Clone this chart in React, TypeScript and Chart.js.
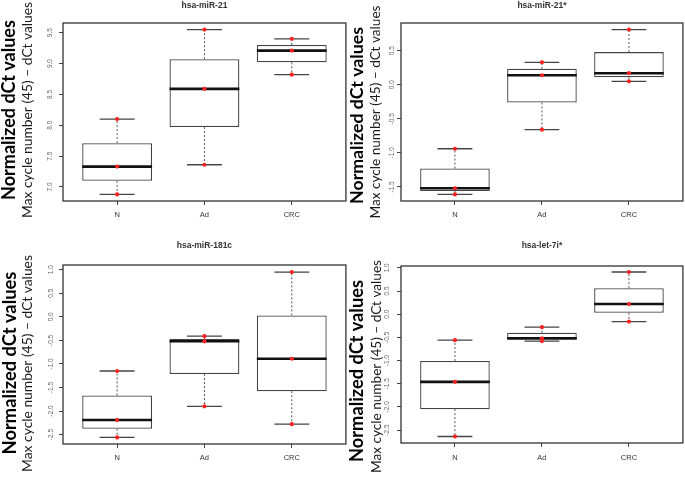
import React, { useEffect, useRef } from 'react';
import { Chart, registerables } from 'chart.js';

Chart.register(...registerables);

// ---------- data ----------
const CATEGORIES = ['N', 'Ad', 'CRC'];
const CATEGORY_POS = [1, 2, 3];
const Y_TITLE_BOLD = 'Normalized dCt values';
const Y_TITLE = 'Max cycle number (45) – dCt values';

// hsa-miR-21
const MIR21_MIN = [6.88, 7.36, 8.82];
const MIR21_Q1 = [7.1, 7.97, 9.02];
const MIR21_MED = [7.33, 8.59, 9.21];
const MIR21_Q3 = [7.71, 9.07, 9.3];
const MIR21_MAX = [8.1, 9.55, 9.4];
const MIR21_POINTS = [[8.1, 7.33, 6.88], [9.55, 8.59, 7.36], [9.4, 9.21, 8.82]];
const MIR21_TICKS = [7.0, 7.5, 8.0, 8.5, 9.0, 9.5];
const MIR21_RANGE = [6.773, 9.657];

// hsa-miR-21*
const MIR21S_MIN = [-1.61, -0.66, 0.05];
const MIR21S_Q1 = [-1.56, -0.26, 0.11];
const MIR21S_MED = [-1.52, 0.14, 0.17];
const MIR21S_Q3 = [-1.23, 0.235, 0.48];
const MIR21S_MAX = [-0.94, 0.33, 0.81];
const MIR21S_POINTS = [[-0.94, -1.52, -1.61], [0.33, 0.14, -0.66], [0.81, 0.17, 0.05]];
const MIR21S_TICKS = [-1.5, -1.0, -0.5, 0.0, 0.5];
const MIR21S_RANGE = [-1.707, 0.907];

// hsa-miR-181c
const MIR181C_MIN = [-2.56, -1.9, -2.28];
const MIR181C_Q1 = [-2.375, -1.215, -1.58];
const MIR181C_MED = [-2.19, -0.52, -0.89];
const MIR181C_Q3 = [-1.67, -0.47, 0.03];
const MIR181C_MAX = [-1.15, -0.41, 0.95];
const MIR181C_POINTS = [[-1.15, -2.19, -2.56], [-0.41, -0.52, -1.9], [0.95, -0.89, -2.28]];
const MIR181C_TICKS = [-2.5, -2.0, -1.5, -1.0, -0.5, 0.0, 0.5, 1.0];
const MIR181C_RANGE = [-2.7, 1.1];

// hsa-let-7i*
const LET7I_MIN = [-2.64, -0.58, -0.16];
const LET7I_Q1 = [-2.05, -0.55, 0.03];
const LET7I_MED = [-1.46, -0.52, 0.22];
const LET7I_Q3 = [-1.01, -0.4, 0.56];
const LET7I_MAX = [-0.56, -0.28, 0.91];
const LET7I_POINTS = [[-0.56, -1.46, -2.64], [-0.28, -0.52, -0.58], [0.91, 0.22, -0.16]];
const LET7I_TICKS = [-2.5, -2.0, -1.5, -1.0, -0.5, 0.0, 0.5, 1.0];
const LET7I_RANGE = [-2.78, 1.04];

// ---------- layout / style ----------
type Layout = {
  left: number; top: number; width: number; height: number;
  padTop: number; padRight: number; yWidth: number; xHeight: number; xPad: number;
  tickGap: number;
  bold: { x: number; y: number; len: number };
  normal: { x: number; y: number; len: number };
};

type Panel = {
  title: string;
  min: number[]; q1: number[]; med: number[]; q3: number[]; max: number[];
  points: number[][]; ticks: number[]; range: number[];
  layout: Layout;
};

const PANELS: Panel[] = [
  {
    title: 'hsa-miR-21', min: MIR21_MIN, q1: MIR21_Q1, med: MIR21_MED, q3: MIR21_Q3, max: MIR21_MAX,
    points: MIR21_POINTS, ticks: MIR21_TICKS, range: MIR21_RANGE,
    layout: { left: 0, top: 0, width: 348, height: 240, padTop: 23, padRight: 2, yWidth: 63, xHeight: 39, xPad: 5, tickGap: 13,
      bold: { x: 9, y: 110, len: 180 }, normal: { x: 28, y: 110, len: 216 } },
  },
  {
    title: 'hsa-miR-21*', min: MIR21S_MIN, q1: MIR21S_Q1, med: MIR21S_MED, q3: MIR21S_Q3, max: MIR21S_MAX,
    points: MIR21S_POINTS, ticks: MIR21S_TICKS, range: MIR21S_RANGE,
    layout: { left: 347, top: 0, width: 338, height: 240, padTop: 23, padRight: 2, yWidth: 54, xHeight: 39, xPad: 5, tickGap: 9,
      bold: { x: 10, y: 115.5, len: 177 }, normal: { x: 29, y: 112, len: 213 } },
  },
  {
    title: 'hsa-miR-181c', min: MIR181C_MIN, q1: MIR181C_Q1, med: MIR181C_MED, q3: MIR181C_Q3, max: MIR181C_MAX,
    points: MIR181C_POINTS, ticks: MIR181C_TICKS, range: MIR181C_RANGE,
    layout: { left: 0, top: 240, width: 348, height: 241, padTop: 25, padRight: 2, yWidth: 63, xHeight: 37, xPad: 5, tickGap: 11.5,
      bold: { x: 10, y: 123, len: 183 }, normal: { x: 28, y: 123.5, len: 217 } },
  },
  {
    title: 'hsa-let-7i*', min: LET7I_MIN, q1: LET7I_Q1, med: LET7I_MED, q3: LET7I_Q3, max: LET7I_MAX,
    points: LET7I_POINTS, ticks: LET7I_TICKS, range: LET7I_RANGE,
    layout: { left: 347, top: 240, width: 338, height: 241, padTop: 26, padRight: 2, yWidth: 54, xHeight: 38, xPad: 6, tickGap: 14,
      bold: { x: 10, y: 131, len: 182 }, normal: { x: 30, y: 126.5, len: 213 } },
  },
];

const FONT = '"Liberation Sans", Arial, sans-serif';
const TITLE_FONT = 'Lato, "Liberation Sans", sans-serif';

function fitSize(ctx: CanvasRenderingContext2D, text: string, weight: string, family: string, target: number) {
  ctx.font = `${weight} 20px ${family}`;
  const w = ctx.measureText(text).width;
  return (20 * target) / w;
}

function drawRotated(ctx: CanvasRenderingContext2D, text: string, x: number, y: number, font: string, color: string) {
  ctx.save();
  ctx.translate(x, y);
  ctx.rotate(-Math.PI / 2);
  ctx.font = font;
  ctx.fillStyle = color;
  ctx.textAlign = 'center';
  ctx.textBaseline = 'middle';
  ctx.fillText(text, 0, 0);
  ctx.restore();
}

function makePlugin(panel: Panel) {
  return {
    id: 'boxExtras',
    afterDatasetDraw(chart: any, args: any) {
      if (args.index !== 0) return;
      const ctx: CanvasRenderingContext2D = chart.ctx;
      const xs = chart.scales.x;
      const ys = chart.scales.y;
      const meta = chart.getDatasetMeta(0);
      ctx.save();
      CATEGORY_POS.forEach((pos, i) => {
        const cx = xs.getPixelForValue(pos);
        const w = meta.data[i].width;
        const capHalf = w / 4;
        const yMin = ys.getPixelForValue(panel.min[i]);
        const yQ1 = ys.getPixelForValue(panel.q1[i]);
        const yMed = ys.getPixelForValue(panel.med[i]);
        const yQ3 = ys.getPixelForValue(panel.q3[i]);
        const yMax = ys.getPixelForValue(panel.max[i]);
        // whiskers (dashed)
        ctx.strokeStyle = '#555';
        ctx.lineWidth = 1;
        ctx.setLineDash([2, 2]);
        ctx.beginPath();
        ctx.moveTo(cx, yQ3);
        ctx.lineTo(cx, yMax);
        ctx.moveTo(cx, yQ1);
        ctx.lineTo(cx, yMin);
        ctx.stroke();
        // caps
        ctx.setLineDash([]);
        ctx.lineWidth = 1.3;
        ctx.strokeStyle = '#444';
        ctx.beginPath();
        ctx.moveTo(cx - capHalf, yMax);
        ctx.lineTo(cx + capHalf, yMax);
        ctx.moveTo(cx - capHalf, yMin);
        ctx.lineTo(cx + capHalf, yMin);
        ctx.stroke();
        // median
        ctx.lineWidth = 2.6;
        ctx.strokeStyle = '#111';
        ctx.beginPath();
        ctx.moveTo(cx - w / 2, yMed);
        ctx.lineTo(cx + w / 2, yMed);
        ctx.stroke();
      });
      ctx.restore();
    },
    afterDraw(chart: any) {
      const ctx: CanvasRenderingContext2D = chart.ctx;
      const a = chart.chartArea;
      const L = panel.layout;
      ctx.save();
      // frame
      ctx.strokeStyle = '#333';
      ctx.lineWidth = 1.3;
      ctx.strokeRect(a.left, a.top, a.right - a.left, a.bottom - a.top);
      // panel title
      ctx.font = `bold 8.5px ${FONT}`;
      ctx.fillStyle = '#333';
      ctx.textAlign = 'center';
      ctx.textBaseline = 'middle';
      ctx.fillText(panel.title, (a.left + a.right) / 2, 6);
      // y tick labels (rotated, as in R)
      const ys = chart.scales.y;
      panel.ticks.forEach((v) => {
        drawRotated(ctx, v.toFixed(1), a.left - L.tickGap, ys.getPixelForValue(v), `6.5px ${FONT}`, '#666');
      });
      // axis titles
      const bSize = fitSize(ctx, Y_TITLE_BOLD, 'bold', TITLE_FONT, L.bold.len);
      drawRotated(ctx, Y_TITLE_BOLD, L.bold.x, L.bold.y, `bold ${bSize}px ${TITLE_FONT}`, '#000');
      const nSize = fitSize(ctx, Y_TITLE, 'normal', TITLE_FONT, L.normal.len);
      drawRotated(ctx, Y_TITLE, L.normal.x, L.normal.y, `normal ${nSize}px ${TITLE_FONT}`, '#1a1a1a');
      ctx.restore();
    },
  };
}

function BoxPanel({ panel }: { panel: Panel }) {
  const ref = useRef<HTMLCanvasElement | null>(null);
  useEffect(() => {
    if (!ref.current) return;
    const L = panel.layout;
    const boxData = CATEGORY_POS.map((x, i) => ({ x, y: [panel.q1[i], panel.q3[i]] }));
    const pointData = CATEGORY_POS.flatMap((x, i) => panel.points[i].map((y) => ({ x, y })));
    const chart = new Chart(ref.current, {
      type: 'bar',
      data: {
        datasets: [
          {
            type: 'bar',
            data: boxData as any,
            backgroundColor: '#ffffff',
            borderColor: '#444',
            borderWidth: 1.3,
            borderSkipped: false,
            barPercentage: 0.8,
            categoryPercentage: 1,
            order: 1,
          } as any,
          {
            type: 'scatter',
            data: pointData as any,
            backgroundColor: '#ff2020',
            borderWidth: 0,
            pointRadius: 2.1,
            pointHoverRadius: 2.1,
            order: 0,
          } as any,
        ],
      },
      options: {
        responsive: false,
        animation: false,
        events: [],
        layout: { padding: { left: 0, top: L.padTop, right: L.padRight, bottom: 0 } },
        plugins: { legend: { display: false }, tooltip: { enabled: false }, title: { display: false } },
        scales: {
          x: {
            type: 'linear',
            offset: false,
            min: 0.38,
            max: 3.62,
            afterBuildTicks: (s: any) => { s.ticks = CATEGORY_POS.map((v) => ({ value: v })); },
            afterFit: (s: any) => { s.height = L.xHeight; },
            ticks: {
              callback: (v: any) => CATEGORIES[CATEGORY_POS.indexOf(Number(v))] ?? '',
              font: { family: FONT, size: 7.5 },
              color: '#333',
              padding: L.xPad,
              maxRotation: 0,
              autoSkip: false,
            },
            grid: { display: true, offset: false, drawOnChartArea: false, drawTicks: true, tickLength: 4, color: '#444', lineWidth: 1 },
            border: { display: false },
          },
          y: {
            type: 'linear',
            min: panel.range[0],
            max: panel.range[1],
            afterBuildTicks: (s: any) => { s.ticks = panel.ticks.map((v) => ({ value: v })); },
            afterFit: (s: any) => { s.width = L.yWidth; },
            ticks: { display: false },
            grid: { display: true, drawOnChartArea: false, drawTicks: true, tickLength: 4, color: '#444', lineWidth: 1 },
            border: { display: false },
          },
        },
      } as any,
      plugins: [makePlugin(panel)],
    });
    return () => chart.destroy();
  }, [panel]);
  const L = panel.layout;
  return (
    <canvas
      ref={ref}
      width={L.width}
      height={L.height}
      style={{ position: 'absolute', left: L.left, top: L.top, width: L.width, height: L.height }}
    />
  );
}

export default function App() {
  return (
    <div style={{ position: 'absolute', left: 0, top: 0, width: 685, height: 481, background: '#ffffff', overflow: 'hidden' }}>
      {PANELS.map((p) => (
        <BoxPanel key={p.title} panel={p} />
      ))}
    </div>
  );
}
